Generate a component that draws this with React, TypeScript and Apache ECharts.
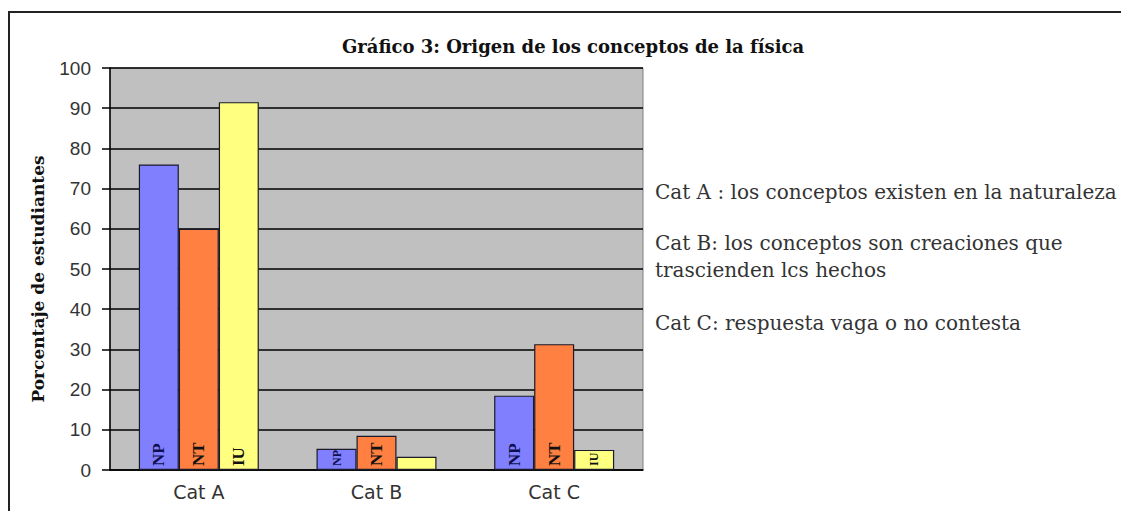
import React, { useEffect, useRef } from "react";
import * as echarts from "echarts";

const categories = ["Cat A", "Cat B", "Cat C"];
const seriesNames = ["NP", "NT", "IU"];
const npValues = [76, 5.3, 18.5];
const ntValues = [60, 8.5, 31.3];
const iuValues = [91.5, 3.3, 5];
const seriesColors = ["#8080FF", "#FF8040", "#FFFF80"];
const titleText = "Gráfico 3: Origen de los conceptos de la física";
const yAxisName = "Porcentaje de estudiantes";
const notes = [
  "Cat A : los conceptos existen en la naturaleza",
  "Cat B: los conceptos son creaciones que",
  "trascienden lcs hechos",
  "Cat C: respuesta vaga o no contesta",
];

export default function App() {
  const ref = useRef<HTMLDivElement>(null);
  useEffect(() => {
    if (!ref.current) return;
    const chart = echarts.init(ref.current, undefined, { renderer: "svg" });
    const values = [npValues, ntValues, iuValues];
    const noteY = [192, 243, 270, 323];
    chart.setOption({
      animation: false,
      backgroundColor: "#ffffff",
      title: {
        text: titleText,
        left: 568,
        top: 32,
        textAlign: "center",
        textStyle: {
          fontFamily: "DejaVu Serif",
          fontWeight: "bold",
          fontSize: 18,
          color: "#111",
        },
      },
      grid: {
        left: 110,
        top: 68,
        width: 533,
        height: 402,
        show: true,
        backgroundColor: "#C0C0C0",
        borderColor: "#808080",
        borderWidth: 1,
      },
      xAxis: {
        type: "category",
        data: categories,
        axisLine: { show: true, lineStyle: { color: "#000", width: 1.5 } },
        axisTick: { show: false },
        axisLabel: {
          margin: 12,
          fontFamily: "DejaVu Sans",
          fontSize: 19,
          color: "#333",
        },
      },
      yAxis: {
        type: "value",
        min: 0,
        max: 100,
        interval: 10,
        name: yAxisName,
        nameLocation: "middle",
        nameGap: 64,
        nameTextStyle: {
          fontFamily: "DejaVu Serif",
          fontWeight: "bold",
          fontSize: 17,
          color: "#111",
          padding: [0, 20, 0, 0],
        },
        axisLine: { show: true, lineStyle: { color: "#000", width: 1.5 } },
        axisTick: { show: true, length: 8, lineStyle: { color: "#000", width: 1.5 } },
        axisLabel: {
          margin: 19,
          fontFamily: "Liberation Sans",
          fontSize: 19,
          color: "#333",
        },
        splitLine: { show: true, lineStyle: { color: "#000", width: 1.5 } },
      },
      series: seriesNames.map((name, si) => ({
        name,
        type: "bar",
        barWidth: 40,
        barGap: "0%",
        data: values[si].map((v, ci) => ({
          value: v,
          label:
            si === 2 && ci === 1
              ? { show: false }
              : (si === 0 && ci === 1) || (si === 2 && ci === 2)
              ? { show: true, fontSize: 12 }
              : { show: true },
        })),
        itemStyle: {
          color: seriesColors[si],
          borderColor: "#1a1a2a",
          borderWidth: 1.2,
        },
        label: {
          show: true,
          position: "insideBottom",
          rotate: 90,
          align: "left",
          verticalAlign: "middle",
          distance: 4,
          formatter: name,
          fontFamily: "Liberation Serif",
          fontWeight: "bold",
          fontSize: 17,
          color: si === 0 ? "#101050" : "#111",
        },
      })),
      graphic: [
        {
          type: "rect",
          shape: { x: 9, y: 12, width: 1200, height: 600 },
          style: { fill: "none", stroke: "#222", lineWidth: 2 },
          silent: true,
          z: -1,
        },
        ...notes.map((t, i) => ({
          type: "text",
          x: 655,
          y: noteY[i],
          style: {
            text: t,
            fontFamily: "DejaVu Serif",
            fontSize: 20,
            fill: "#333",
            verticalAlign: "middle",
          },
        })),
      ],
    });
    return () => chart.dispose();
  }, []);
  return (
    <div
      ref={ref}
      style={{ position: "fixed", left: 0, top: 0, width: 1121, height: 511 }}
    />
  );
}
